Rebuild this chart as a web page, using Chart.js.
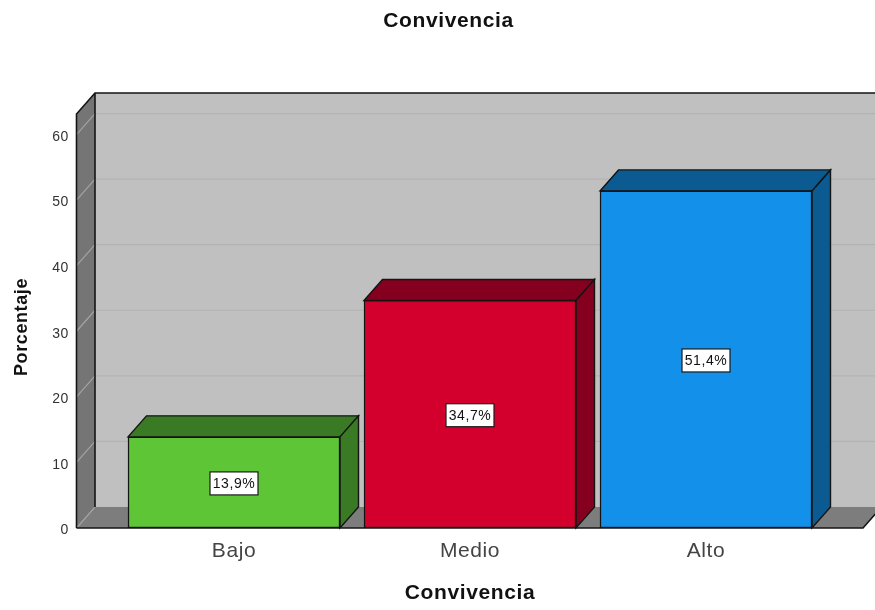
<!DOCTYPE html>
<html>
<head>
<meta charset="utf-8">
<style>
html,body{margin:0;padding:0;background:#fff;overflow:hidden;width:875px;height:610px}
#wrap{position:absolute;left:0;top:0;width:897px;height:610px}
canvas{display:block}
</style>
<script src="https://cdn.jsdelivr.net/npm/chart.js@4"></script>
</head>
<body>
<div id="wrap"><canvas id="c" width="897" height="610"></canvas></div>
<script>
const categories = ["Bajo", "Medio", "Alto"];
const percentages = [13.9, 34.7, 51.4];
const yTickValues = [0, 10, 20, 30, 40, 50, 60];
const chartTitle = "Convivencia";
const xAxisTitle = "Convivencia";
const yAxisTitle = "Porcentaje";

const frontColors = ["#5ec537", "#d3002d", "#1390e9"];
const topColors = ["#3b7a24", "#85001f", "#0b5a91"];
const FONT = '"Liberation Sans", Arial, sans-serif';
const DX = 18.5, DY = 21;
const EDGE = "#141414";

function poly(ctx, pts, fill, stroke, lw) {
  ctx.beginPath();
  pts.forEach((p, i) => i ? ctx.lineTo(p[0], p[1]) : ctx.moveTo(p[0], p[1]));
  ctx.closePath();
  if (fill) { ctx.fillStyle = fill; ctx.fill(); }
  if (stroke) { ctx.strokeStyle = stroke; ctx.lineWidth = lw || 1.5; ctx.stroke(); }
}

const box3d = {
  id: "box3d",
  afterLayout(chart) {
    if (chart.titleBlock) { chart.titleBlock.left = 0; chart.titleBlock.right = chart.width; }
  },
  beforeDraw(chart) {
    chart.ctx.letterSpacing = "0.6px";
  },
  beforeDatasetsDraw(chart) {
    const ctx = chart.ctx, a = chart.chartArea, y = chart.scales.y;
    const bottom = a.bottom, top = a.top - 12;
    const L = a.left - 39.5, R = a.right + 39;
    ctx.save();
    // back wall
    poly(ctx, [[L + DX, top - DY], [R + DX, top - DY], [R + DX, bottom - DY], [L + DX, bottom - DY]], "#c0c0c0");
    // floor
    poly(ctx, [[L, bottom], [R, bottom], [R + DX, bottom - DY], [L + DX, bottom - DY]], "#7d7d7d");
    // left wall
    poly(ctx, [[L, top], [L + DX, top - DY], [L + DX, bottom - DY], [L, bottom]], "#757575");
    // gridlines
    yTickValues.forEach(v => {
      const py = y.getPixelForValue(v);
      ctx.lineWidth = 1.2;
      ctx.strokeStyle = "#a3a3a3";
      ctx.beginPath(); ctx.moveTo(L, py); ctx.lineTo(L + DX, py - DY); ctx.stroke();
      if (v > 0) {
        ctx.strokeStyle = "#b3b3b3";
        ctx.beginPath(); ctx.moveTo(L + DX, py - DY); ctx.lineTo(R + DX, py - DY); ctx.stroke();
      }
    });
    // outlines
    ctx.strokeStyle = EDGE; ctx.lineWidth = 1.6;
    ctx.beginPath();
    ctx.moveTo(L, bottom); ctx.lineTo(L, top); ctx.lineTo(L + DX, top - DY);
    ctx.lineTo(R + DX, top - DY);
    ctx.moveTo(L + DX, top - DY); ctx.lineTo(L + DX, bottom - DY);
    ctx.moveTo(L, bottom); ctx.lineTo(R, bottom); ctx.lineTo(R + DX, bottom - DY);
    ctx.stroke();
    // bar top + side faces
    chart.getDatasetMeta(0).data.forEach((b, i) => {
      const l = b.x - b.width / 2, r = b.x + b.width / 2, t = b.y, base = b.base;
      poly(ctx, [[l, t], [l + DX, t - DY], [r + DX, t - DY], [r, t]], topColors[i], EDGE, 1.4);
      poly(ctx, [[r, t], [r + DX, t - DY], [r + DX, base - DY], [r, base]], topColors[i], EDGE, 1.4);
    });
    ctx.restore();
  },
  afterDatasetsDraw(chart) {
    const ctx = chart.ctx;
    ctx.save();
    ctx.font = "14px " + FONT;
    ctx.letterSpacing = "0.6px";
    ctx.textAlign = "center";
    ctx.textBaseline = "middle";
    chart.getDatasetMeta(0).data.forEach((b, i) => {
      const txt = percentages[i].toFixed(1).replace(".", ",") + "%";
      const cy = (b.y + b.base) / 2 + 1;
      const w = 48, h = 23;
      ctx.fillStyle = "#fff";
      ctx.fillRect(b.x - w / 2, cy - h / 2, w, h);
      ctx.strokeStyle = "#1a1a1a"; ctx.lineWidth = 1.2;
      ctx.strokeRect(b.x - w / 2, cy - h / 2, w, h);
      ctx.fillStyle = "#111";
      ctx.fillText(txt, b.x, cy + 0.5);
    });
    ctx.restore();
  }
};

new Chart(document.getElementById("c"), {
  type: "bar",
  data: {
    labels: categories,
    datasets: [{
      data: percentages,
      backgroundColor: frontColors,
      borderColor: EDGE,
      borderWidth: 1.5,
      borderSkipped: false,
      barThickness: 212
    }]
  },
  plugins: [box3d],
  options: {
    responsive: false,
    animation: false,
    layout: { padding: { left: 0, right: 73, top: 0, bottom: 0 } },
    plugins: {
      legend: { display: false },
      tooltip: { enabled: false },
      title: {
        display: true,
        text: chartTitle,
        color: "#111",
        font: { family: FONT, size: 21, weight: "bold", lineHeight: 1.2 },
        padding: { top: 9, bottom: 91.8 }
      }
    },
    scales: {
      x: {
        grid: { display: false, drawTicks: false },
        border: { display: false },
        ticks: { color: "#444", font: { family: FONT, size: 21 }, padding: 11, maxRotation: 0 },
        title: {
          display: true, text: xAxisTitle, color: "#111",
          font: { family: FONT, size: 21, weight: "bold", lineHeight: 1.2 },
          padding: { top: 14, bottom: 4 }
        },
        afterFit(s) { s.height = 82; }
      },
      y: {
        min: 0,
        max: 61.3,
        grid: { display: false, drawTicks: false },
        border: { display: false },
        afterBuildTicks(s) { s.ticks = yTickValues.map(v => ({ value: v })); },
        ticks: { color: "#333", font: { family: FONT, size: 14 }, padding: 47, labelOffset: 2.5 },
        title: {
          display: true, text: yAxisTitle, color: "#111",
          font: { family: FONT, size: 18, weight: "bold", lineHeight: 1.2 },
          padding: { top: 11, bottom: 0 }
        },
        afterFit(s) { s.width = 116; }
      }
    }
  }
});
</script>
</body>
</html>
